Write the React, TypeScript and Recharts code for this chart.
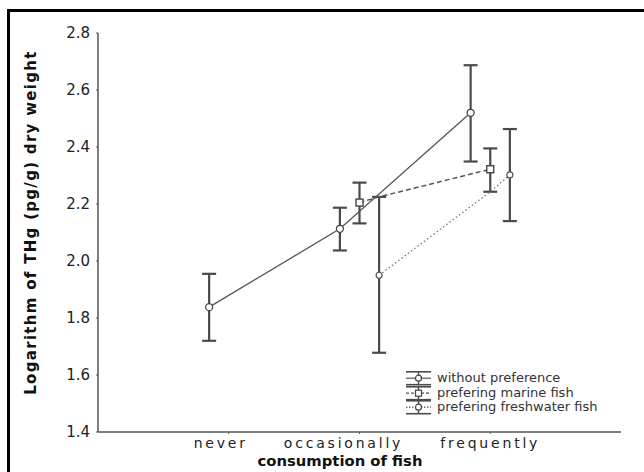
import React from 'react';
import { ComposedChart, Scatter, XAxis, YAxis, ErrorBar, Legend } from 'recharts';

const categories = ['never', 'occasionally', 'frequently'];
const categoryTicks = [1, 2, 3];
const yTicks = [1.4, 1.6, 1.8, 2.0, 2.2, 2.4, 2.6, 2.8];

// without preference (shifted left of the category)
const withoutX = [0.85, 1.85, 2.85];
const withoutMean = [1.838, 2.113, 2.52];
const withoutLow = [1.72, 2.037, 2.349];
const withoutHigh = [1.955, 2.187, 2.687];

// prefering marine fish (on the category)
const marineX = [2, 3];
const marineMean = [2.205, 2.322];
const marineLow = [2.132, 2.243];
const marineHigh = [2.275, 2.395];

// prefering freshwater fish (shifted right)
const freshX = [2.15, 3.15];
const freshMean = [1.95, 2.302];
const freshLow = [1.678, 2.14];
const freshHigh = [2.225, 2.463];

// connecting lines as they run in the original figure
const marineLineX = [2, 2.15, 3];
const marineLineY = [2.205, 2.225, 2.322];
const freshLineX = [2.15, 3, 3.15];
const freshLineY = [1.95, 2.243, 2.302];

const legendItems = ['without preference', 'prefering marine fish', 'prefering freshwater fish'];

const toPoints = (xs: number[], means: number[], lows: number[], highs: number[]) =>
  xs.map((x, i) => ({ x, y: means[i], err: [means[i] - lows[i], highs[i] - means[i]] }));

const toLine = (xs: number[], ys: number[]) => xs.map((x, i) => ({ x, y: ys[i] }));

const withoutData = toPoints(withoutX, withoutMean, withoutLow, withoutHigh);
const marineData = toPoints(marineX, marineMean, marineLow, marineHigh);
const freshData = toPoints(freshX, freshMean, freshLow, freshHigh);

const INK = '#4a4a4a';

const CircleMark = (p: any) => (
  <circle cx={p.cx} cy={p.cy} r={3.5} fill="#fff" stroke="#444" strokeWidth={1.3} />
);
const SquareMark = (p: any) => (
  <rect x={p.cx - 3.5} y={p.cy - 3.5} width={7} height={7} fill="#fff" stroke="#444" strokeWidth={1.4} />
);
const SmallMark = (p: any) => (
  <circle cx={p.cx} cy={p.cy} r={3} fill="#fff" stroke="#555" strokeWidth={1.2} />
);
const NoMark = () => <g />;

const tickShift = [-8, -16, 0];

const XTick = (props: any) => {
  const { x, y, payload } = props;
  const i = categoryTicks.indexOf(payload.value);
  return (
    <text
      x={x + (tickShift[i] || 0)}
      y={y}
      dy="0.71em"
      textAnchor="middle"
      fontFamily="'DejaVu Sans', sans-serif"
      fontSize={14}
      letterSpacing={2.8}
      fill="#222"
    >
      {categories[i]}
    </text>
  );
};

const YTitle = (props: any) => {
  const vb = props.viewBox || { x: 10, y: 33, height: 399 };
  const cx = 31;
  const cy = vb.y + vb.height / 2 - 10;
  return (
    <text
      x={cx}
      y={cy}
      transform={`rotate(-90 ${cx} ${cy})`}
      textAnchor="middle"
      dominantBaseline="central"
      fontFamily="'DejaVu Sans', Verdana, sans-serif"
      fontWeight="bold"
      fontSize={15}
      letterSpacing={1.3}
      fill="#111"
    >
      Logarithm of THg (pg/g) dry weight
    </text>
  );
};

const XTitle = () => (
  <text
    x={340}
    y={466}
    textAnchor="middle"
    fontFamily="'DejaVu Sans', Verdana, sans-serif"
    fontWeight="bold"
    fontSize={14.8}
    fill="#111"
  >
    consumption of fish
  </text>
);

const dashes = [undefined, '3 2', '1.5 1.5'];

const LegendIcon = ({ index }: { index: number }) => (
  <svg width={27} height={14.5} style={{ display: 'block' }}>
    <line x1={1} y1={0.8} x2={26} y2={0.8} stroke={INK} strokeWidth={1.6} />
    <line x1={1} y1={13.7} x2={26} y2={13.7} stroke={INK} strokeWidth={1.6} />
    <line x1={13.5} y1={0.8} x2={13.5} y2={13.7} stroke={INK} strokeWidth={1.4} />
    <line x1={1} y1={7.2} x2={26} y2={7.2} stroke="#555" strokeWidth={1.2} strokeDasharray={dashes[index]} />
    {index === 1 ? (
      <rect x={10.5} y={4.2} width={6} height={6} fill="#fff" stroke="#444" strokeWidth={1.2} />
    ) : (
      <circle cx={13.5} cy={7.2} r={3} fill="#fff" stroke="#444" strokeWidth={1.2} />
    )}
  </svg>
);

const LegendBox = () => (
  <div>
    {legendItems.map((label, i) => (
      <div key={label} style={{ display: 'flex', alignItems: 'center', height: 14.5 }}>
        <LegendIcon index={i} />
        <span
          style={{
            marginLeft: 5,
            fontFamily: "'DejaVu Sans', sans-serif",
            fontSize: 13,
            lineHeight: '14.5px',
            color: '#333',
            whiteSpace: 'nowrap',
          }}
        >
          {label}
        </span>
      </div>
    ))}
  </div>
);

export default function App() {
  return (
    <div style={{ position: 'absolute', left: 0, top: 0, width: 644, height: 472, overflow: 'hidden', background: '#fff' }}>
      <div
        style={{
          position: 'absolute',
          left: 7,
          top: 9,
          width: 660,
          height: 480,
          border: '3px solid #000',
        }}
      />
      <div style={{ position: 'absolute', left: 0, top: 0 }}>
        <ComposedChart width={644} height={472} margin={{ top: 33, right: 23, bottom: 0, left: 10 }}>
          <XAxis
            type="number"
            dataKey="x"
            domain={[0, 4]}
            ticks={categoryTicks}
            allowDataOverflow
            height={40}
            tickSize={2}
            tickMargin={4}
            tick={<XTick />}
            stroke="#555"
            axisLine={{ stroke: '#555', strokeWidth: 1.5 }}
            label={<XTitle />}
          />
          <YAxis
            type="number"
            dataKey="y"
            domain={[1.4, 2.8]}
            ticks={yTicks}
            width={88}
            tickSize={2}
            tickMargin={6}
            tickFormatter={(v: number) => v.toFixed(1)}
            tick={{
              fill: '#222',
              fontSize: 15,
              fontFamily: "'DejaVu Sans', sans-serif",
            }}
            stroke="#555"
            axisLine={{ stroke: '#555', strokeWidth: 1.5 }}
            label={<YTitle />}
          />
          <Legend
            content={<LegendBox />}
            layout="vertical"
            align="center"
            verticalAlign="middle"
            wrapperStyle={{ left: 405, top: 371, width: 220 }}
          />

          {/* connecting lines */}
          <Scatter
            data={toLine(withoutX, withoutMean)}
            shape={NoMark}
            line={{ stroke: '#555', strokeWidth: 1.3 }}
            legendType="none"
            isAnimationActive={false}
          />
          <Scatter
            data={toLine(marineLineX, marineLineY)}
            shape={NoMark}
            line={{ stroke: '#555', strokeWidth: 1.5, strokeDasharray: '5 3' }}
            legendType="none"
            isAnimationActive={false}
          />
          <Scatter
            data={toLine(freshLineX, freshLineY)}
            shape={NoMark}
            line={{ stroke: '#777', strokeWidth: 1.3, strokeDasharray: '1.5 2.5' }}
            legendType="none"
            isAnimationActive={false}
          />

          {/* means with error bars */}
          <Scatter name="without preference" data={withoutData} shape={CircleMark} isAnimationActive={false}>
            <ErrorBar dataKey="err" direction="y" width={7} stroke={INK} strokeWidth={2.2} />
          </Scatter>
          <Scatter name="prefering marine fish" data={marineData} shape={SquareMark} isAnimationActive={false}>
            <ErrorBar dataKey="err" direction="y" width={7} stroke={INK} strokeWidth={2.2} />
          </Scatter>
          <Scatter name="prefering freshwater fish" data={freshData} shape={SmallMark} isAnimationActive={false}>
            <ErrorBar dataKey="err" direction="y" width={7} stroke={INK} strokeWidth={2.2} />
          </Scatter>
        </ComposedChart>
      </div>
    </div>
  );
}
